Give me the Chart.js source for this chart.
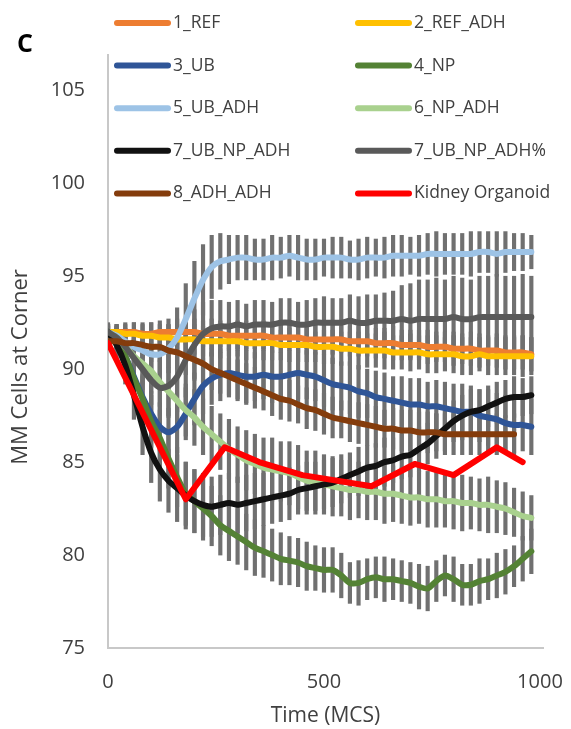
<!DOCTYPE html>
<html>
<head>
<meta charset="utf-8">
<script src="https://cdn.jsdelivr.net/npm/chart.js@4.4.1/dist/chart.umd.min.js"></script>
<style>
html, body { margin: 0; padding: 0; background: #fff; }
</style>
</head>
<body>
<canvas id="chartId" width="571" height="729"></canvas>
<script>
// sampling times (MCS)
var times = [0, 20, 40, 60, 80, 100, 120, 140, 160, 180,
    200, 220, 240, 260, 280, 300, 320, 340, 360, 380,
    400, 420, 440, 460, 480, 500, 520, 540, 560, 580,
    600, 620, 640, 660, 680, 700, 720, 740, 760, 780,
    800, 820, 840, 860, 880, 900, 920, 940, 960, 980];

var names = ["1_REF", "2_REF_ADH", "3_UB", "4_NP", "5_UB_ADH", "6_NP_ADH",
    "7_UB_NP_ADH", "7_UB_NP_ADH%", "8_ADH_ADH", "Kidney Organoid"];
var colors = ["#ed7d31", "#ffc000", "#2f5597", "#548235", "#9dc3e6", "#a9d18e",
    "#111111", "#595959", "#843c0c", "#ff0000"];

var yTicks = [75, 80, 85, 90, 95, 100, 105];
var xTicks = [0, 500, 1000];

// mean MM cells at corner
var ref1 = [92.0, 92.0, 92.0, 92.0, 91.9, 91.9, 92.0, 92.0, 92.0, 92.0,
    92.0, 91.9, 91.9, 91.9, 91.8, 91.8, 91.8, 91.8, 91.8, 91.7,
    91.7, 91.7, 91.7, 91.6, 91.6, 91.6, 91.6, 91.6, 91.5, 91.5,
    91.5, 91.4, 91.4, 91.4, 91.3, 91.3, 91.3, 91.2, 91.2, 91.2,
    91.1, 91.1, 91.1, 91.0, 91.0, 91.0, 90.9, 90.9, 90.9, 90.8];
var refAdh2 = [92.0, 92.0, 91.9, 91.9, 91.8, 91.8, 91.7, 91.7, 91.6, 91.6,
    91.6, 91.5, 91.5, 91.5, 91.5, 91.5, 91.4, 91.4, 91.4, 91.4,
    91.3, 91.3, 91.3, 91.3, 91.2, 91.2, 91.2, 91.1, 91.1, 91.0,
    91.0, 91.0, 91.0, 90.9, 90.9, 90.9, 90.9, 90.8, 90.8, 90.8,
    90.8, 90.7, 90.7, 90.8, 90.7, 90.7, 90.7, 90.7, 90.7, 90.7];
var ub3 = [92.0, 91.6, 90.7, 89.6, 88.5, 87.6, 86.9, 86.6, 86.9, 87.6,
    88.4, 89.1, 89.5, 89.7, 89.8, 89.7, 89.6, 89.6, 89.7, 89.6,
    89.6, 89.7, 89.8, 89.7, 89.6, 89.4, 89.2, 89.1, 89.0, 88.8,
    88.7, 88.5, 88.4, 88.3, 88.2, 88.1, 88.1, 88.0, 88.0, 87.9,
    87.8, 87.7, 87.7, 87.5, 87.4, 87.3, 87.1, 87.0, 87.0, 86.9];
var np4 = [92.0, 91.5, 90.7, 89.5, 88.4, 87.2, 86.3, 85.2, 84.2, 83.3,
    82.9, 82.5, 82.1, 81.6, 81.3, 81.0, 80.7, 80.4, 80.2, 80.0,
    79.8, 79.7, 79.6, 79.4, 79.3, 79.2, 79.2, 78.9, 78.5, 78.5,
    78.7, 78.8, 78.7, 78.7, 78.6, 78.5, 78.3, 78.2, 78.6, 78.9,
    78.7, 78.4, 78.4, 78.6, 78.7, 78.9, 79.1, 79.4, 79.8, 80.2];
var ubAdh5 = [92.0, 91.8, 91.5, 91.2, 91.0, 90.8, 90.8, 91.1, 91.7, 92.7,
    93.8, 94.8, 95.5, 95.8, 95.9, 96.0, 96.0, 95.9, 95.9, 96.0,
    96.0, 96.1, 96.0, 95.9, 95.9, 96.0, 96.0, 96.0, 95.9, 95.9,
    96.0, 96.0, 96.0, 96.1, 96.1, 96.1, 96.1, 96.2, 96.2, 96.2,
    96.2, 96.2, 96.2, 96.3, 96.3, 96.2, 96.3, 96.3, 96.3, 96.3];
var npAdh6 = [92.0, 91.7, 91.2, 90.7, 90.3, 89.9, 89.3, 88.8, 88.3, 87.8,
    87.4, 86.9, 86.5, 86.1, 85.7, 85.4, 85.1, 84.9, 84.7, 84.6,
    84.5, 84.4, 84.2, 84.0, 83.9, 83.8, 83.7, 83.6, 83.5, 83.5,
    83.4, 83.4, 83.3, 83.3, 83.2, 83.1, 83.1, 83.0, 83.0, 82.9,
    82.9, 82.8, 82.8, 82.7, 82.7, 82.6, 82.5, 82.3, 82.1, 82.0];
var ubNpAdh7 = [92.0, 91.3, 90.2, 88.6, 86.9, 85.5, 84.6, 84.0, 83.6, 83.2,
    82.9, 82.7, 82.6, 82.7, 82.8, 82.7, 82.8, 82.9, 83.0, 83.1,
    83.2, 83.3, 83.5, 83.6, 83.7, 83.8, 83.9, 84.1, 84.3, 84.5,
    84.7, 84.8, 85.0, 85.1, 85.3, 85.4, 85.7, 86.0, 86.4, 86.8,
    87.2, 87.5, 87.7, 87.8, 88.0, 88.2, 88.4, 88.5, 88.5, 88.6];
var ubNpAdhPct7 = [92.0, 91.7, 91.2, 90.6, 90.0, 89.4, 89.0, 89.1, 89.6, 90.5,
    91.3, 91.9, 92.2, 92.3, 92.3, 92.4, 92.3, 92.4, 92.4, 92.4,
    92.5, 92.5, 92.4, 92.4, 92.5, 92.5, 92.5, 92.5, 92.6, 92.5,
    92.5, 92.6, 92.6, 92.6, 92.7, 92.6, 92.7, 92.7, 92.7, 92.7,
    92.8, 92.7, 92.7, 92.8, 92.8, 92.8, 92.8, 92.8, 92.8, 92.8];
var adhAdh8 = [91.5, 91.5, 91.4, 91.4, 91.3, 91.2, 91.2, 91.0, 90.9, 90.7,
    90.5, 90.3, 90.0, 89.8, 89.6, 89.4, 89.2, 89.0, 88.8, 88.6,
    88.4, 88.3, 88.1, 87.9, 87.8, 87.6, 87.4, 87.3, 87.2, 87.1,
    87.0, 86.9, 86.8, 86.8, 86.7, 86.7, 86.6, 86.6, 86.6, 86.5,
    86.5, 86.5, 86.5, 86.5, 86.5, 86.5, 86.5, 86.5, null, null];

// kidney organoid is sampled more coarsely
var koTimes = [0, 180, 270, 350, 450, 610, 710, 800, 900, 960];
var koValues = [91.4, 83.0, 85.8, 85.0, 84.3, 83.7, 84.9, 84.3, 85.8, 85.0];

// error bar half widths (same order as the series above)
var err1 = [0.3, 0.4, 0.5, 0.5, 0.6, 0.6, 0.6, 0.7, 0.7, 0.7,
    0.7, 0.7, 0.8, 0.7, 0.7, 0.8, 0.8, 0.7, 0.8, 0.8,
    0.8, 0.7, 0.8, 0.8, 0.8, 0.8, 0.8, 0.7, 0.8, 0.8,
    0.8, 0.8, 0.8, 0.9, 0.8, 0.8, 0.8, 0.9, 0.8, 0.8,
    0.9, 0.8, 0.9, 0.9, 0.8, 0.9, 0.9, 0.9, 0.9, 0.9];
var err2 = [0.3, 0.4, 0.5, 0.6, 0.6, 0.7, 0.7, 0.7, 0.8, 0.8,
    0.8, 0.8, 0.8, 0.9, 0.8, 0.8, 0.9, 0.8, 0.9, 0.9,
    0.8, 0.9, 0.9, 0.9, 0.8, 0.9, 0.9, 0.9, 0.9, 1.0,
    0.9, 0.9, 1.0, 0.9, 0.9, 1.0, 0.9, 1.0, 1.0, 0.9,
    1.0, 1.0, 1.0, 0.9, 1.0, 1.0, 1.0, 1.0, 1.1, 1.0];
var err3 = [0.4, 0.6, 0.8, 1.0, 1.1, 1.2, 1.3, 1.3, 1.4, 1.4,
    1.4, 1.5, 1.4, 1.4, 1.3, 1.3, 1.4, 1.3, 1.3, 1.4,
    1.3, 1.3, 1.4, 1.3, 1.3, 1.4, 1.4, 1.3, 1.4, 1.4,
    1.3, 1.4, 1.4, 1.3, 1.4, 1.4, 1.4, 1.3, 1.4, 1.4,
    1.4, 1.5, 1.4, 1.4, 1.5, 1.4, 1.5, 1.5, 1.4, 1.5];
var err4 = [0.4, 0.6, 0.9, 1.1, 1.3, 1.4, 1.5, 1.6, 1.6, 1.7,
    1.7, 1.7, 1.6, 1.6, 1.6, 1.5, 1.5, 1.5, 1.4, 1.4,
    1.4, 1.3, 1.3, 1.3, 1.2, 1.2, 1.2, 1.2, 1.1, 1.2,
    1.1, 1.1, 1.2, 1.1, 1.1, 1.1, 1.2, 1.2, 1.1, 1.1,
    1.2, 1.1, 1.1, 1.2, 1.1, 1.2, 1.2, 1.1, 1.2, 1.2];
var err5 = [0.5, 0.6, 0.7, 0.8, 0.9, 1.0, 1.1, 1.3, 1.6, 1.9,
    2.0, 1.9, 1.7, 1.5, 1.3, 1.2, 1.2, 1.1, 1.1, 1.2,
    1.1, 1.1, 1.2, 1.1, 1.1, 1.0, 1.1, 1.1, 1.0, 1.1,
    1.1, 1.0, 1.1, 1.1, 1.1, 1.0, 1.1, 1.1, 1.2, 1.1,
    1.1, 1.1, 1.2, 1.1, 1.1, 1.2, 1.1, 1.0, 1.0, 0.9];
var err6 = [0.4, 0.6, 0.8, 1.0, 1.1, 1.2, 1.3, 1.3, 1.4, 1.4,
    1.5, 1.5, 1.5, 1.5, 1.6, 1.5, 1.6, 1.6, 1.6, 1.7,
    1.6, 1.7, 1.7, 1.6, 1.7, 1.6, 1.6, 1.5, 1.6, 1.5,
    1.5, 1.5, 1.6, 1.5, 1.5, 1.5, 1.4, 1.5, 1.5, 1.4,
    1.5, 1.5, 1.4, 1.4, 1.5, 1.4, 1.4, 1.3, 1.3, 1.2];
var err7 = [0.4, 0.7, 1.0, 1.3, 1.5, 1.6, 1.7, 1.7, 1.8, 1.8,
    1.7, 1.7, 1.6, 1.6, 1.6, 1.5, 1.5, 1.5, 1.4, 1.4,
    1.4, 1.4, 1.3, 1.4, 1.3, 1.3, 1.3, 1.3, 1.2, 1.3,
    1.2, 1.2, 1.3, 1.2, 1.2, 1.2, 1.2, 1.1, 1.2, 1.2,
    1.1, 1.1, 1.2, 1.1, 1.1, 1.1, 1.0, 1.1, 1.0, 1.0];
var err8 = [0.4, 0.6, 0.8, 1.0, 1.1, 1.3, 1.5, 1.7, 1.9, 2.0,
    1.9, 1.7, 1.5, 1.4, 1.3, 1.3, 1.2, 1.3, 1.3, 1.2,
    1.3, 1.3, 1.2, 1.3, 1.3, 1.4, 1.3, 1.3, 1.4, 1.4,
    1.5, 1.4, 1.5, 1.6, 1.8, 2.0, 2.1, 2.1, 2.2, 2.1,
    2.2, 2.2, 2.1, 2.2, 2.2, 2.3, 2.2, 2.2, 2.3, 2.2];
var err9 = [0.3, 0.4, 0.5, 0.6, 0.7, 0.8, 0.8, 0.9, 0.9, 1.0,
    1.0, 1.0, 1.1, 1.1, 1.0, 1.1, 1.1, 1.1, 1.0, 1.1,
    1.1, 1.1, 1.0, 1.1, 1.1, 1.1, 1.1, 1.0, 1.1, 1.1,
    1.1, 1.1, 1.0, 1.1, 1.1, 1.1, 1.1, 1.1, 1.0, 1.1,
    1.1, 1.1, 1.1, 1.1, 1.1, 1.1, 1.0, 1.1, null, null];

var series = [ref1, refAdh2, ub3, np4, ubAdh5, npAdh6, ubNpAdh7, ubNpAdhPct7, adhAdh8];
var errors = [err1, err2, err3, err4, err5, err6, err7, err8, err9];

function points(xs, ys) {
    var out = [];
    for (var i = 0; i < xs.length; i++) {
        if (ys[i] !== null) out.push({ x: xs[i], y: ys[i] });
    }
    return out;
}

function errorBars(xs, ys, es) {
    var out = [];
    for (var i = 0; i < xs.length; i++) {
        if (ys[i] !== null) out.push({ x: xs[i], y: [ys[i] - es[i], ys[i] + es[i]] });
    }
    return out;
}

var datasets = [];
for (var i = 0; i < series.length; i++) {
    datasets.push({
        type: 'bar',
        label: names[i] + ' err',
        data: errorBars(times, series[i], errors[i]),
        backgroundColor: '#707070',
        barThickness: 3.5,
        grouped: false,
        order: 30 + i
    });
}
for (var i = 0; i < series.length; i++) {
    datasets.push({
        type: 'line',
        label: names[i],
        data: points(times, series[i]),
        borderColor: colors[i],
        borderWidth: 6,
        pointRadius: 0,
        tension: 0.25,
        borderCapStyle: 'round',
        borderJoinStyle: 'round',
        order: 10 - i
    });
}
datasets.push({
    type: 'line',
    label: names[9],
    data: points(koTimes, koValues),
    borderColor: colors[9],
    borderWidth: 6,
    pointRadius: 0,
    tension: 0,
    borderCapStyle: 'round',
    borderJoinStyle: 'round',
    order: 0
});

// two column legend + panel letter + rotated y title
var legendBox = {
    id: 'legendBox',
    afterDraw: function (chart) {
        var ctx = chart.ctx;
        ctx.save();
        ctx.textBaseline = 'middle';
        ctx.lineCap = 'round';
        ctx.lineWidth = 6;
        ctx.font = '17.5px "Open Sans"';
        for (var i = 0; i < names.length; i++) {
            var x = (i % 2 === 0) ? 117 : 358;
            var y = 23 + Math.floor(i / 2) * 42.6;
            ctx.strokeStyle = colors[i];
            ctx.beginPath();
            ctx.moveTo(x, y);
            ctx.lineTo(x + 51, y);
            ctx.stroke();
            ctx.fillStyle = '#404040';
            ctx.textAlign = 'left';
            ctx.fillText(names[i], x + 56, y);
        }
        ctx.font = 'bold 25px "Open Sans"';
        ctx.fillStyle = '#000';
        ctx.fillText('C', 17, 45);

        ctx.translate(21, 367);
        ctx.rotate(-Math.PI / 2);
        ctx.textAlign = 'center';
        ctx.font = '22px "Open Sans"';
        ctx.fillStyle = '#404040';
        ctx.fillText('MM Cells at Corner', 0, 0);
        ctx.restore();
    }
};

// keep the plot box fixed: no extra room for overhanging tick labels
function noOverhang(scale) {
    scale.paddingLeft = 0;
    scale.paddingRight = 0;
    scale.paddingTop = 0;
    scale.paddingBottom = 0;
}

var chrt = document.getElementById("chartId").getContext("2d");
var chartId = new Chart(chrt, {
    type: 'line',
    data: { datasets: datasets },
    plugins: [legendBox],
    options: {
        responsive: false,
        animation: false,
        devicePixelRatio: 1,
        layout: { padding: { top: 55, right: 28, bottom: 0, left: 0 } },
        plugins: {
            legend: { display: false },
            tooltip: { enabled: false }
        },
        scales: {
            x: {
                type: 'linear',
                offset: false,
                min: 0,
                max: 1007,
                afterBuildTicks: function (scale) {
                    scale.ticks = xTicks.map(function (v) { return { value: v }; });
                },
                afterFit: function (scale) { scale.height = 81; noOverhang(scale); },
                grid: { display: false, drawTicks: false },
                border: { display: true, color: '#c8c8c8', width: 2 },
                ticks: {
                    padding: 22,
                    color: '#404040',
                    font: { family: 'Open Sans', size: 20 },
                    maxRotation: 0,
                    callback: function (v) { return String(v); }
                },
                title: {
                    display: true,
                    text: 'Time (MCS)',
                    color: '#404040',
                    font: { family: 'Open Sans', size: 21 },
                    padding: { top: 0, bottom: 0 }
                }
            },
            y: {
                min: 75,
                max: 106.9,
                afterBuildTicks: function (scale) {
                    scale.ticks = yTicks.map(function (v) { return { value: v }; });
                },
                afterFit: function (scale) { scale.width = 108; noOverhang(scale); },
                grid: { display: false, drawTicks: false },
                border: { display: true, color: '#c8c8c8', width: 2 },
                ticks: {
                    padding: 23,
                    color: '#404040',
                    font: { family: 'Open Sans', size: 20 },
                    callback: function (v) { return String(v); }
                }
            }
        }
    }
});
</script>
</body>
</html>
